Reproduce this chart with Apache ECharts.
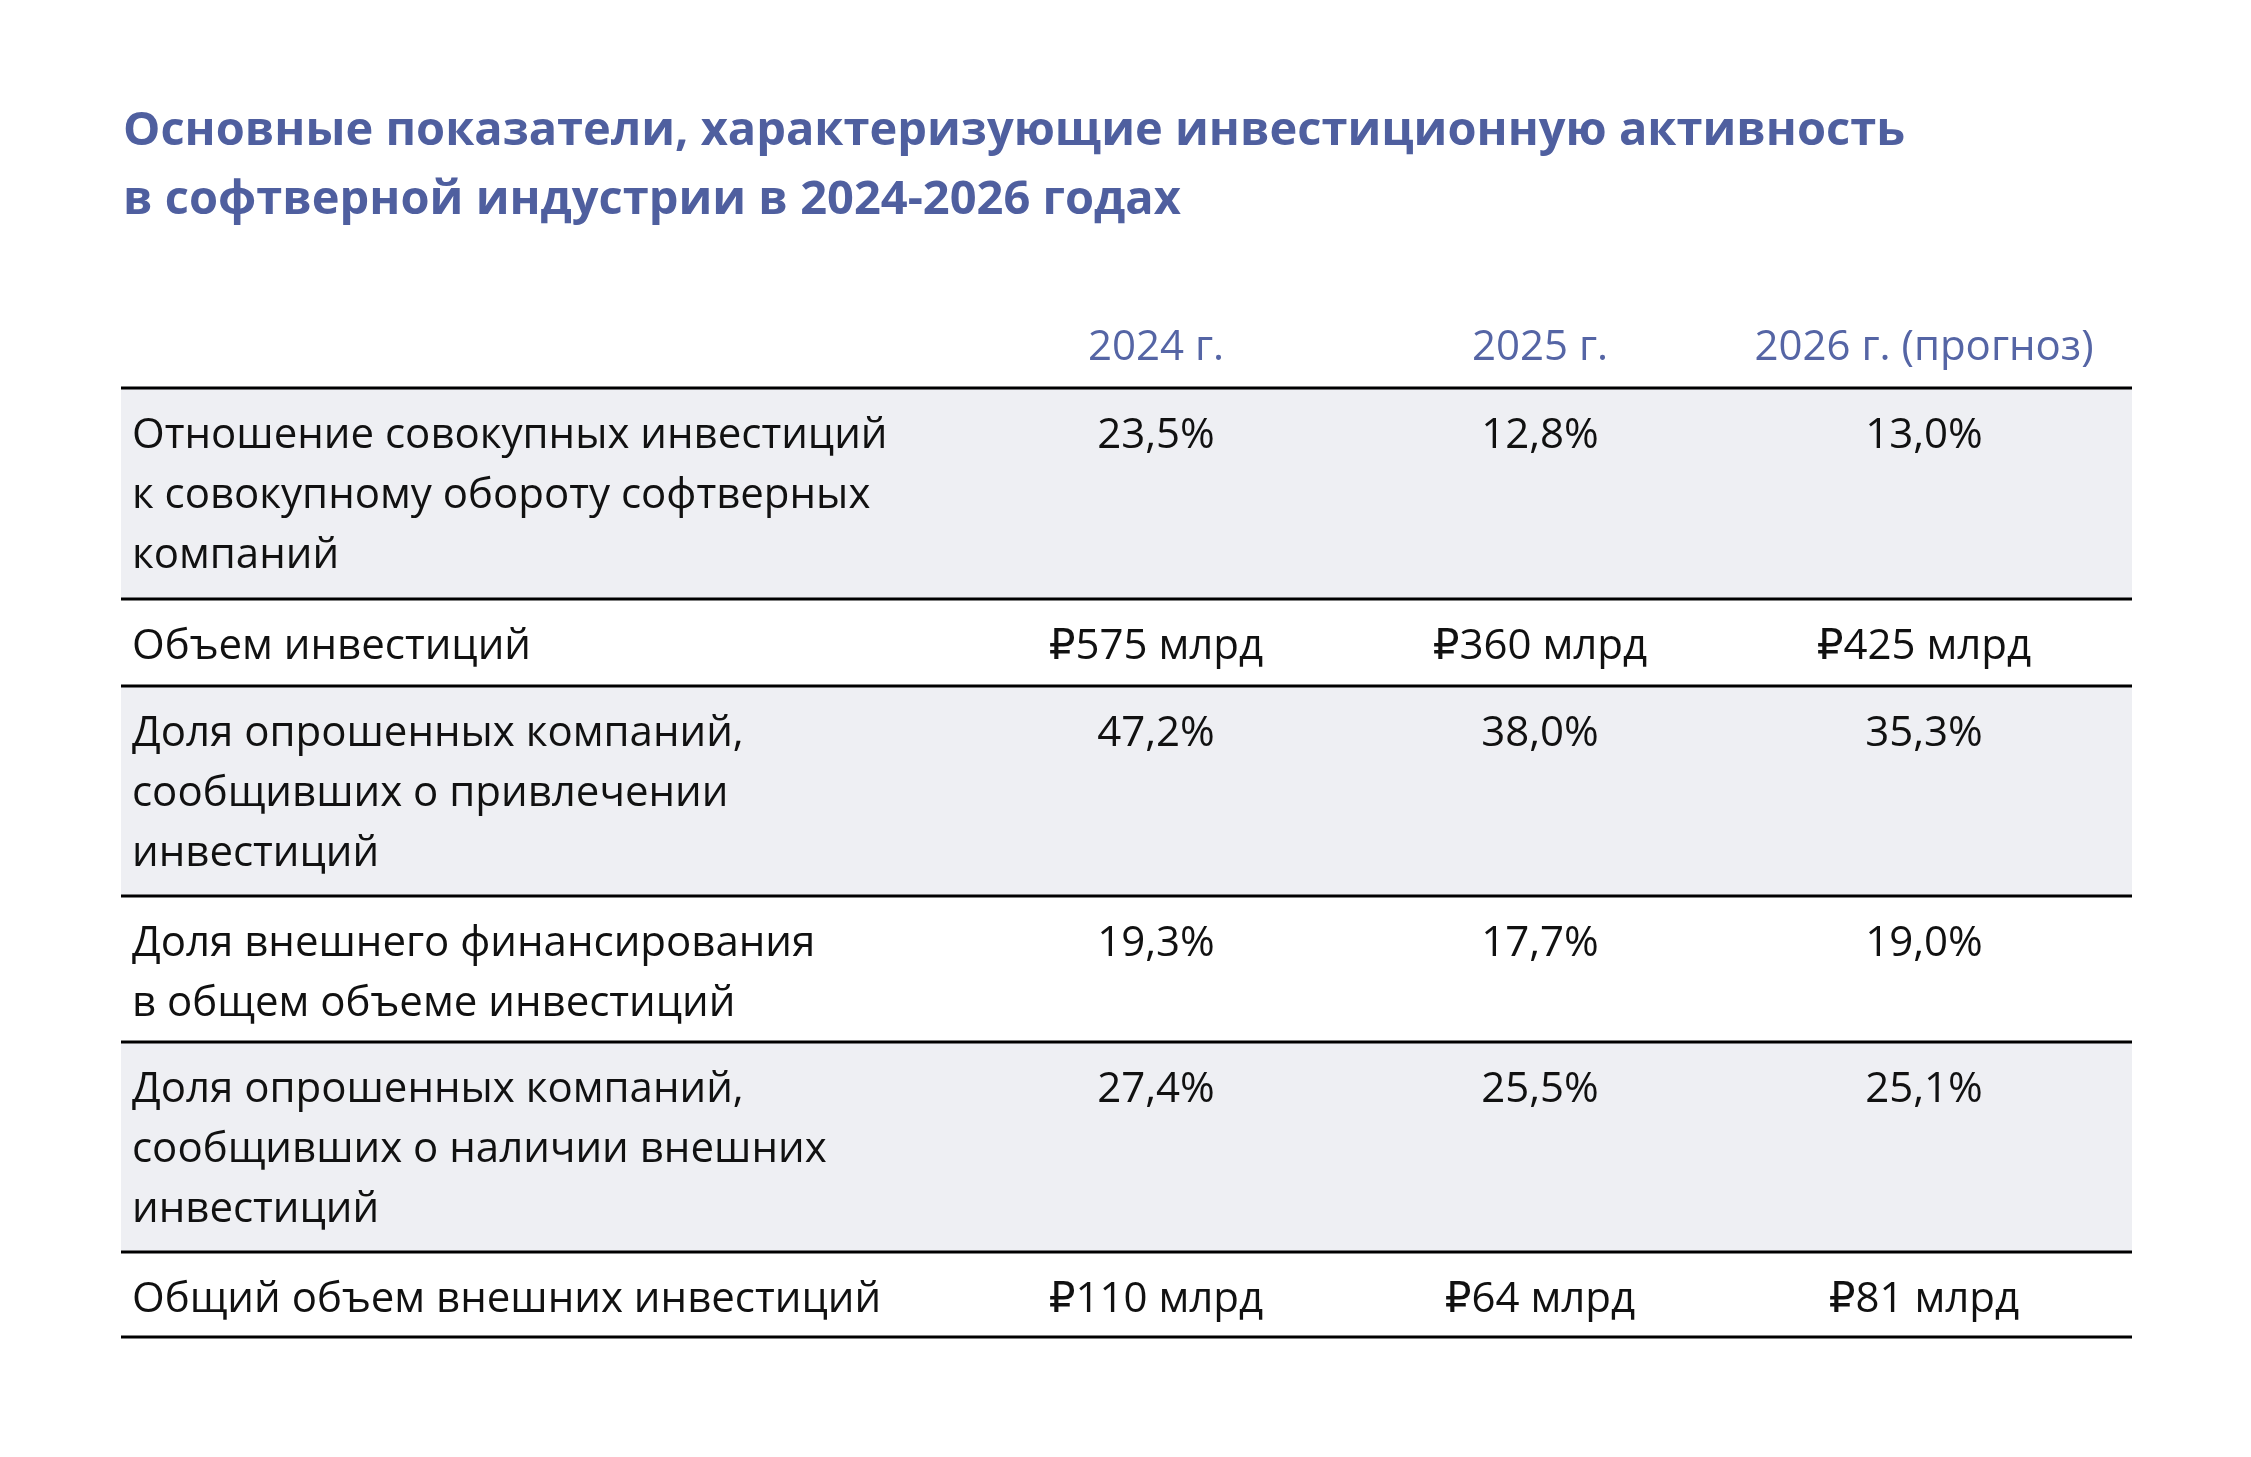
<!DOCTYPE html>
<html>
<head>
<meta charset="utf-8">
<script src="https://cdn.jsdelivr.net/npm/echarts@6/dist/echarts.min.js"></script>
<style>html,body{margin:0;background:#fff}#c{width:2251px;height:1457px}</style>
</head>
<body>
<div id="c"></div>
<script>
var titleLines = ['Основные показатели, характеризующие инвестиционную активность', 'в софтверной индустрии в 2024-2026 годах'];
var years = ['2024 г.', '2025 г.', '2026 г. (прогноз)'];
var rowLabels = [
  'Отношение совокупных инвестиций\nк совокупному обороту софтверных\nкомпаний',
  'Объем инвестиций',
  'Доля опрошенных компаний,\nсообщивших о привлечении\nинвестиций',
  'Доля внешнего финансирования\nв общем объеме инвестиций',
  'Доля опрошенных компаний,\nсообщивших о наличии внешних\nинвестиций',
  'Общий объем внешних инвестиций'
];
var values2024 = ['23,5%', '₽575 млрд', '47,2%', '19,3%', '27,4%', '₽110 млрд'];
var values2025 = ['12,8%', '₽360 млрд', '38,0%', '17,7%', '25,5%', '₽64 млрд'];
var values2026 = ['13,0%', '₽425 млрд', '35,3%', '19,0%', '25,1%', '₽81 млрд'];

var chart = echarts.init(document.getElementById('c'));
var font = '"Open Sans", "DejaVu Sans", sans-serif';
var left = 121, right = 2132;
var colX = [1156, 1540, 1924];
var lines = [388, 599, 686, 896, 1042, 1252, 1337];
var fs = 42, lh = 60;
var g = [];

titleLines.forEach(function (t, i) {
  g.push({type: 'text', left: 123, top: 108 + i * 69,
    style: {text: t, font: 'bold 47px ' + font, fill: '#4f5f9f'}});
});
years.forEach(function (y, i) {
  g.push({type: 'text', x: colX[i], y: 348,
    style: {text: y, font: fs + 'px ' + font, fill: '#5565a5', align: 'center', verticalAlign: 'middle'}});
});
var cols = [values2024, values2025, values2026];
rowLabels.forEach(function (lab, r) {
  var top = lines[r], bot = lines[r + 1];
  if (r % 2 === 0) {
    g.push({type: 'rect', shape: {x: left, y: top, width: right - left, height: bot - top},
      style: {fill: '#eeeff3'}, z: -1});
  }
  g.push({type: 'text', x: 132, y: top + 18,
    style: {text: lab, font: fs + 'px ' + font, fill: '#111', lineHeight: lh, verticalAlign: 'top'}});
  cols.forEach(function (c, i) {
    g.push({type: 'text', x: colX[i], y: top + 18,
      style: {text: c[r], font: fs + 'px ' + font, fill: '#111', align: 'center', verticalAlign: 'top', lineHeight: lh}});
  });
});
lines.forEach(function (y) {
  g.push({type: 'line', shape: {x1: left, y1: y, x2: right, y2: y},
    style: {stroke: '#000', lineWidth: 3}, z: 5});
});

chart.setOption({animation: false, graphic: g});
</script>
</body>
</html>
